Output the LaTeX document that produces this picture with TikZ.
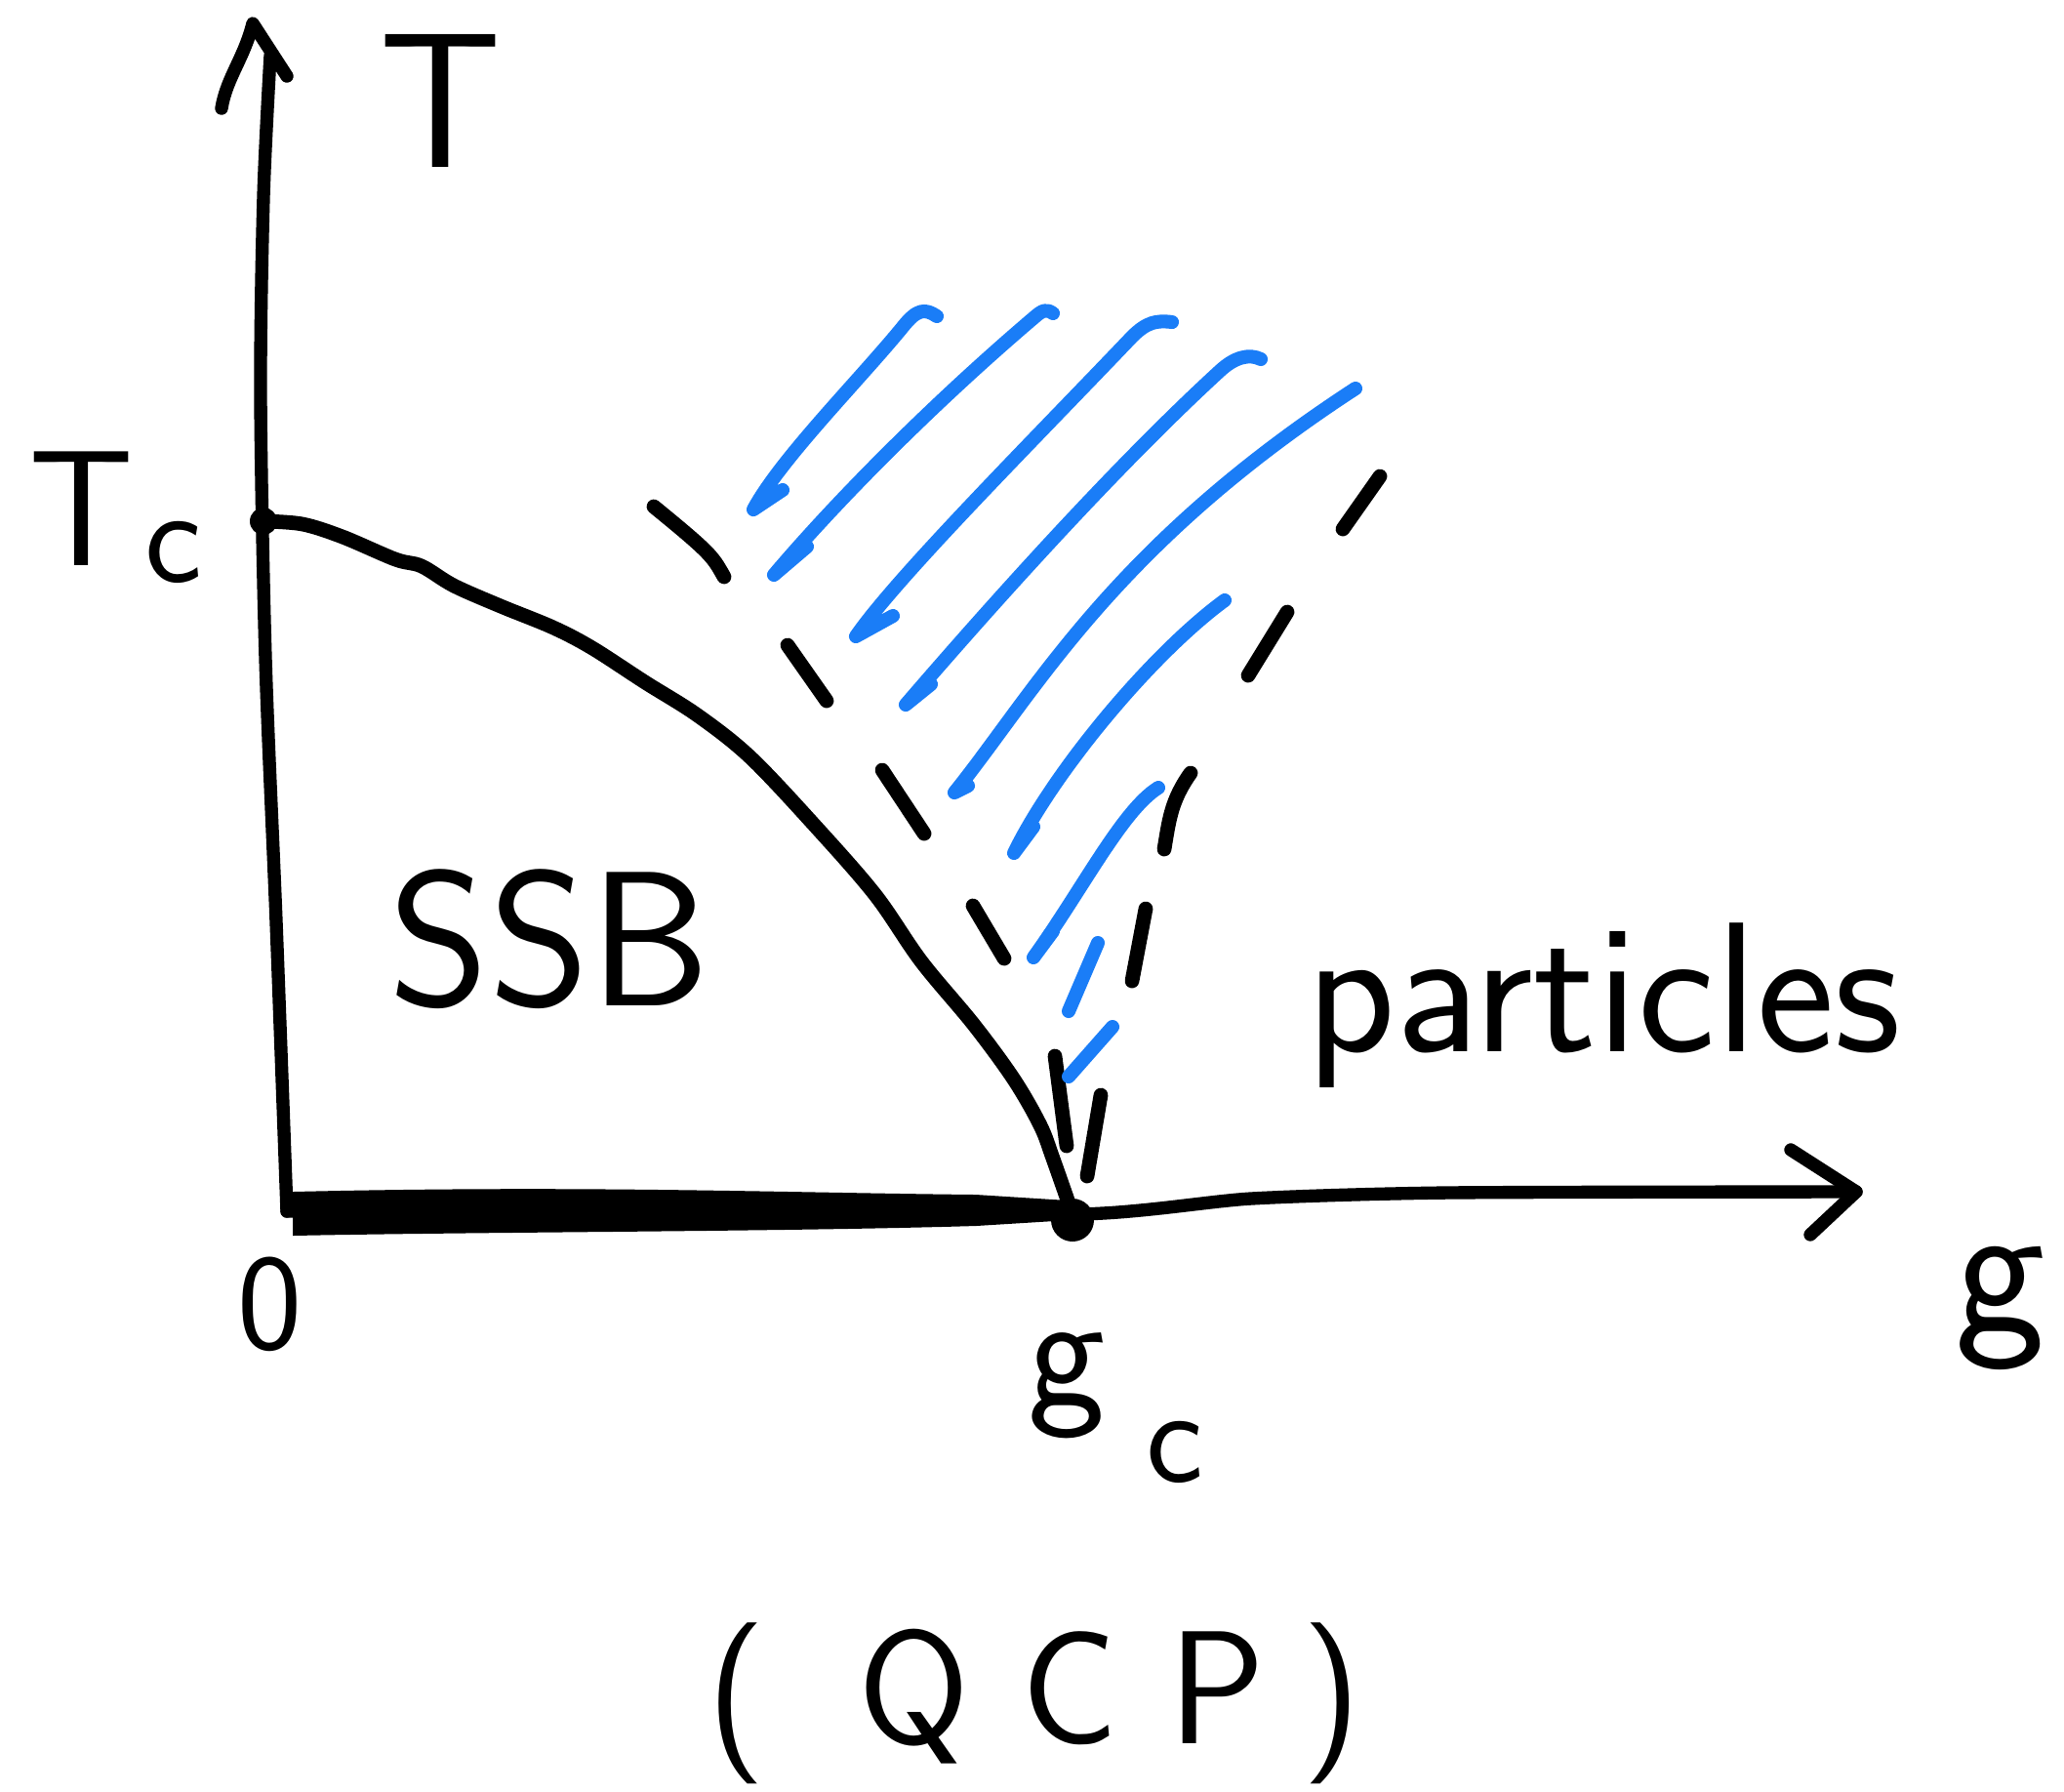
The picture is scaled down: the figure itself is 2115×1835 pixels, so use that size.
\documentclass[tikz,border=0pt]{standalone}
\usetikzlibrary{arrows.meta}
\definecolor{pdInk}{HTML}{000000}
\definecolor{pdBlue}{HTML}{1A7DF7}
\tikzset{
  pd axis/.style={draw=pdInk, line width=3.8pt, line cap=round, line join=round},
  pd line/.style={draw=pdInk, line width=4.2pt, line cap=round, line join=round},
  pd gap/.style={draw=pdInk, line width=4.2pt, line cap=round},
  pd hatch/.style={draw=pdBlue, line width=4pt, line cap=round, line join=round},
  pd label/.style={text=pdInk, inner sep=0pt},
  pd big/.style={pd label, font=\sffamily\fontsize{56}{56}\selectfont},
  pd mid/.style={pd label, font=\sffamily\fontsize{48}{48}\selectfont},
  pd sub/.style={pd label, font=\sffamily\fontsize{40}{40}\selectfont},
}
\begin{document}
\begin{tikzpicture}[x=0.01cm, y=-0.01cm]
  \useasboundingbox (0,0) rectangle (2115,1835);
  % Reference points of the diagram
  \coordinate (origin) at (294,1241);
  \coordinate (ytip) at (277,57);
  \coordinate (xtip) at (1902,1221);
  \coordinate (Tc) at (270,534);
  \coordinate (gc) at (1099,1244);

  % Axes with hand-drawn arrow heads
  \draw[pd axis] plot[smooth] coordinates {(origin) (283,944) (272,674) (267,405) (270,202) (ytip)};
  \draw[pd axis] (227,111) .. controls (232,80) and (250,60) .. (259,24) -- (294,78);
  \draw[pd axis] plot[smooth, tension=0.4] coordinates {(origin) (700,1230) (gc) (1282,1228) (1484,1222) (xtip)};
  \draw[pd axis] (1835,1178) -- (xtip) -- (1855,1265);

  % Quantum critical line at T=0 (thick bar)
  \fill[pdInk] (300,1221) .. controls (600,1214) and (800,1222) .. (1000,1224)
    -- (1095,1230) -- (1097,1250) -- (1000,1256)
    .. controls (800,1262) and (500,1262) .. (300,1266) -- cycle;

  % Phase boundary
  \draw[pd line] plot[smooth, tension=0.55] coordinates {(Tc) (310,537) (351,550) (405,573)
    (432,580) (465,600) (513,621) (567,643) (607,664) (661,699) (715,733) (769,776)
    (836,847) (897,917) (944,985) (998,1050) (1039,1106) (1066,1153) (1079,1187) (gc)};
  \fill[pdInk] (Tc) circle (14);
  \fill[pdInk] (gc) ++(0,6) circle (22);

  % Dashed crossover lines
  \draw[pd gap] (670,519) .. controls (730,568) and (730,570) .. (742,591);
  \draw[pd gap] (807,661) -- (847,718);
  \draw[pd gap] (904,789) -- (947,854);
  \draw[pd gap] (997,928) -- (1029,982);
  \draw[pd gap] (1081,1082) -- (1093,1174);
  \draw[pd gap] (1414,488) -- (1376,542);
  \draw[pd gap] (1319,627) -- (1279,692);
  \draw[pd gap] (1220,792) .. controls (1200,820) and (1198,840) .. (1193,870);
  \draw[pd gap] (1174,931) -- (1160,1005);
  \draw[pd gap] (1128,1122) -- (1114,1205);

  % Blue hatching of the quantum critical fan
  \draw[pd hatch] (802,502) -- (772,522) .. controls (800,470) and (880,390) .. (925,335)
    .. controls (940,316) and (948,316) .. (960,324);
  \draw[pd hatch] (827,560) -- (793,589) .. controls (860,510) and (960,410) .. (1060,325)
    .. controls (1068,318) and (1072,316) .. (1079,321);
  \draw[pd hatch] (915,631) -- (877,652) .. controls (920,590) and (1060,450) .. (1160,345)
    .. controls (1175,330) and (1185,328) .. (1201,330);
  \draw[pd hatch] (954,701) -- (928,722) .. controls (990,650) and (1130,490) .. (1250,380)
    .. controls (1265,366) and (1280,362) .. (1292,368);
  \draw[pd hatch] (992,805) -- (978,812) .. controls (1060,710) and (1140,560) .. (1389,398);
  \draw[pd hatch] (1059,847) -- (1039,874) .. controls (1080,790) and (1180,670) .. (1255,615);
  \draw[pd hatch] (1079,954) -- (1059,981) .. controls (1110,910) and (1150,830) .. (1187,807);
  \draw[pd hatch] (1095,1036) -- (1125,966);
  \draw[pd hatch] (1095,1103) -- (1140,1052);

  % Labels
  \node[pd big] (Tlab) at (452,103) {T};
  \node[pd mid] (TcLab) at (84,521) {T};
  \node[pd sub] (TcSub) at (178,566) {c};
  \node[pd sub] (zeroLab) at (277,1336) {0};
  \node[pd big] (gLab) at (2050,1340) {g};
  \node[pd mid] (gcLab) at (1093,1420) {g};
  \node[pd sub] (gcSub) at (1204,1488) {c};
  \node[pd big] (ssbLab) at (563,962) {SSB};
  \node[pd label, font=\sffamily\fontsize{54}{54}\selectfont] (partLab) at (1643,1030) {particles};
  \node[pd label, font=\sffamily\fontsize{47}{47}\selectfont] (qcpLab) at (1060,1745)
    {(\hspace{0.57em}Q\hspace{0.32em}C\hspace{0.31em}P\hspace{0.23em})};
\end{tikzpicture}
\end{document}
